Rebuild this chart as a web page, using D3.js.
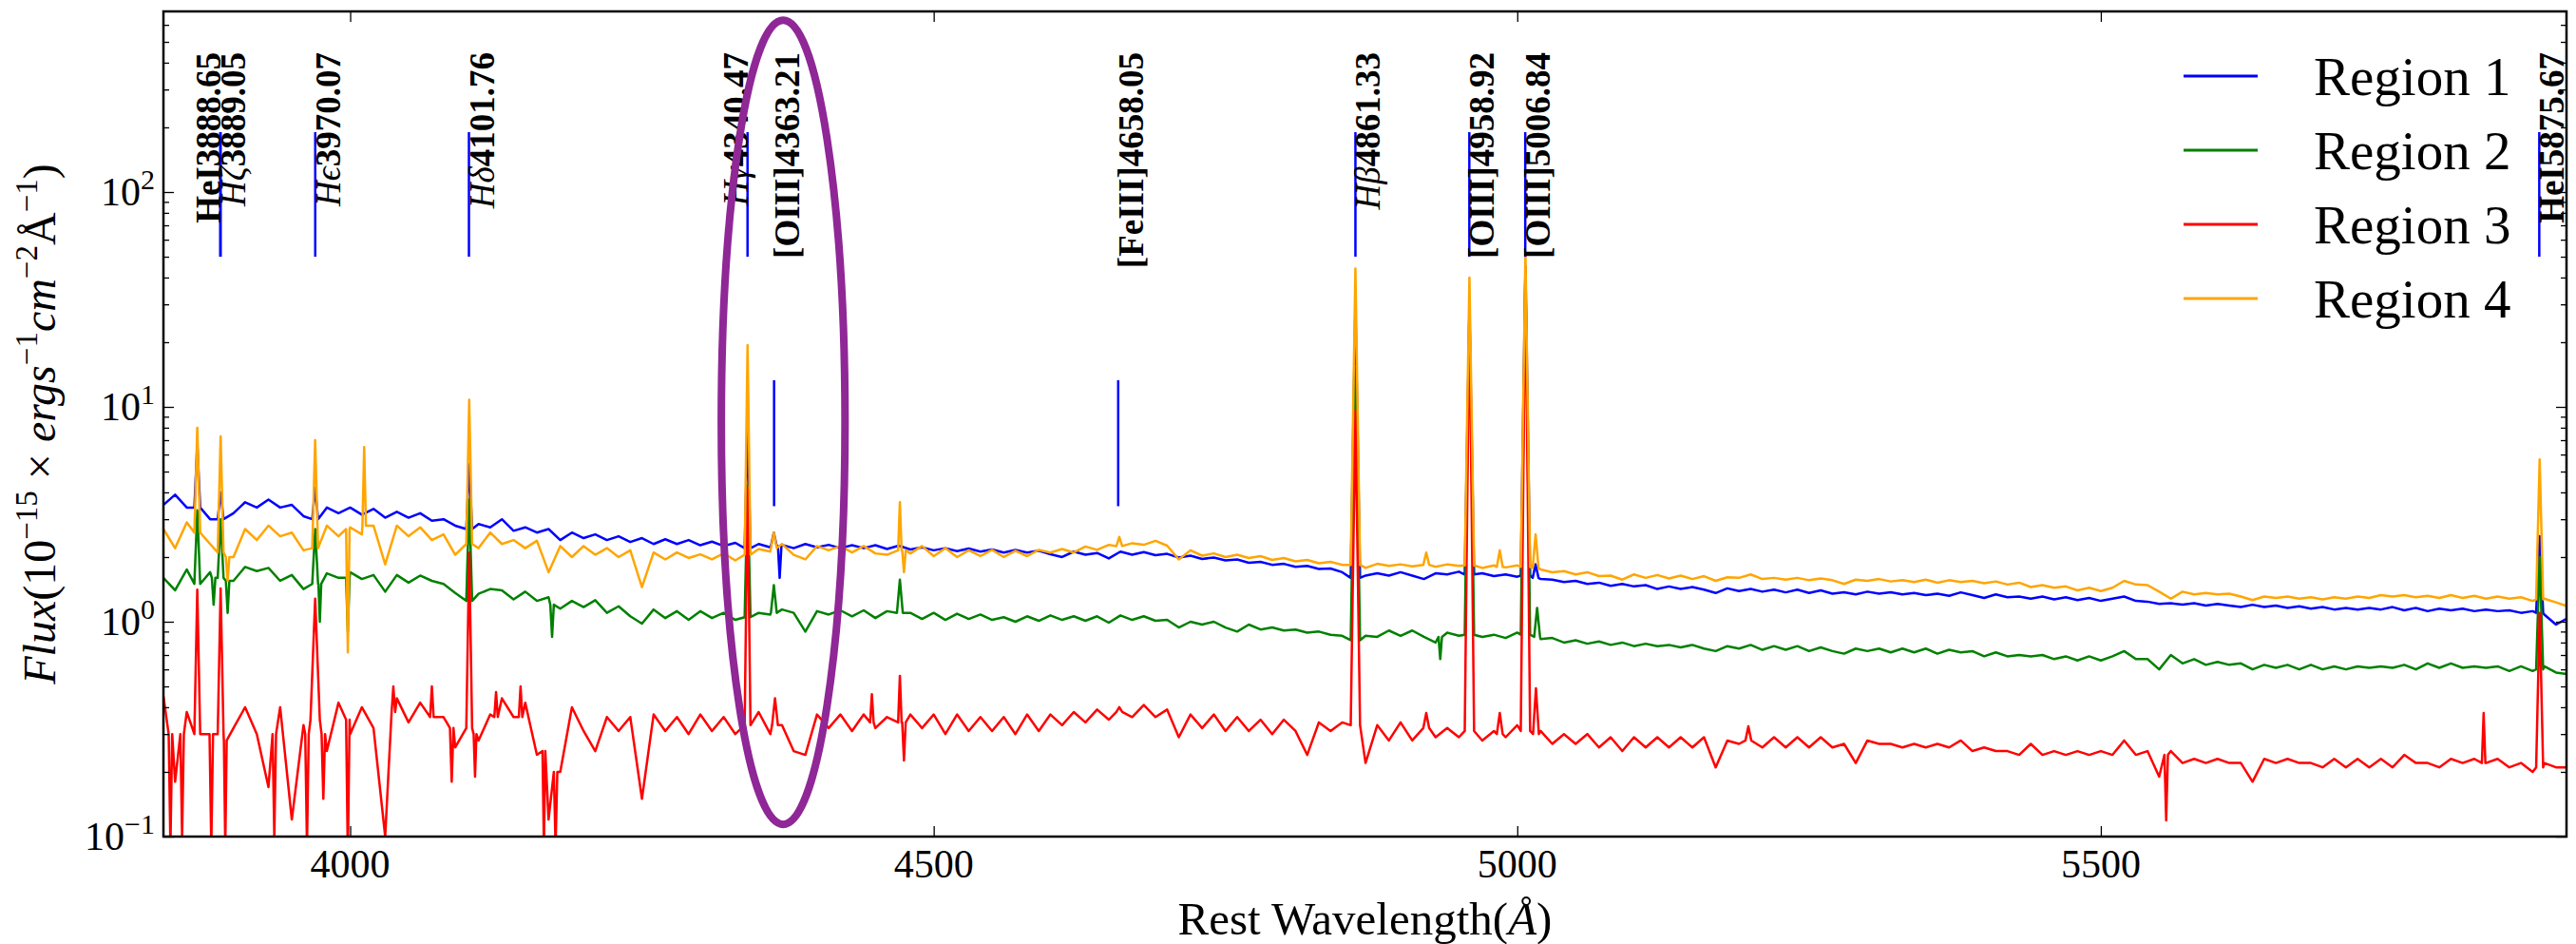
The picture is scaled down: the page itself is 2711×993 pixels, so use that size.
<!DOCTYPE html>
<html>
<head>
<meta charset="utf-8">
<script src="https://d3js.org/d3.v7.min.js"></script>
<style>
    body { margin: 0; background: #fff; }
    text { font-family: "Liberation Serif", "DejaVu Serif", serif; fill: #000; }
    .domain { stroke: none; }
    g.tick line { stroke: #000; stroke-width: 1.3; }
</style>
</head>
<body>
<div id="chartHere"></div>
<script>

    // sampling grid of the spectra, in Angstrom (10 A steps)
    var wave = d3.range(3840, 5901, 10);

    // continuum values, one per grid point (1e-15 erg/s/cm2/A)
    var region1 = [
        3.5, 3.9, 3.4, 3.6, 3.0, 3.1, 3.2, 3.6, 3.4, 3.7,
        3.4, 3.5, 3.1, 3.0, 3.4, 3.2, 3.4, 3.15, 3.35, 3.05,
        3.25, 3.05, 3.2, 2.95, 3.0, 2.8, 2.6, 2.85, 2.75, 3.0,
        2.65, 2.75, 2.6, 2.7, 2.4, 2.6, 2.45, 2.55, 2.4, 2.5,
        2.35, 2.45, 2.3, 2.42, 2.3, 2.4, 2.27, 2.36, 2.25, 2.33,
        2.2, 2.3, 2.22, 2.28, 2.2, 2.3, 2.22, 2.28, 2.2, 2.27,
        2.2, 2.27, 2.18, 2.26, 2.17, 2.22, 2.15, 2.2, 2.13, 2.19,
        2.12, 2.17, 2.1, 2.16, 2.1, 2.14, 2.06, 2.0, 2.12, 2.05,
        2.09, 1.97, 2.12, 2.05, 2.11, 2.04, 2.07, 1.99, 2.03, 1.96,
        1.99, 1.93, 1.95, 1.88, 1.9, 1.84, 1.86, 1.8, 1.82, 1.76,
        1.77, 1.7, 1.58, 1.64, 1.68, 1.64, 1.7, 1.64, 1.58, 1.68,
        1.66, 1.71, 1.64, 1.68, 1.63, 1.66, 1.62, 1.64, 1.58, 1.57,
        1.53, 1.55, 1.5, 1.52, 1.47, 1.5, 1.46, 1.48, 1.42, 1.46,
        1.42, 1.45, 1.41, 1.36, 1.43, 1.39, 1.42, 1.38, 1.41, 1.37,
        1.41, 1.36, 1.4, 1.35, 1.37, 1.34, 1.38, 1.35, 1.37, 1.34,
        1.36, 1.33, 1.35, 1.32, 1.37, 1.33, 1.29, 1.34, 1.3, 1.31,
        1.28, 1.31, 1.27, 1.3, 1.26, 1.29, 1.25, 1.28, 1.31, 1.25,
        1.24, 1.21, 1.22, 1.2, 1.22, 1.19, 1.21, 1.19, 1.17, 1.2,
        1.17, 1.19, 1.16, 1.18, 1.15, 1.17, 1.14, 1.16, 1.14, 1.16,
        1.14, 1.17, 1.13, 1.16, 1.12, 1.15, 1.13, 1.15, 1.12, 1.14,
        1.12, 1.13, 1.1, 1.12, 1.08, 0.97, 1.04
    ];

    var region2 = [
        1.6, 1.4, 1.75, 1.45, 1.7, 1.5, 1.55, 1.8, 1.72, 1.78,
        1.55, 1.65, 1.42, 1.55, 1.68, 1.6, 1.7, 1.58, 1.65, 1.38,
        1.65, 1.52, 1.64, 1.55, 1.5, 1.36, 1.22, 1.35, 1.42, 1.4,
        1.27, 1.38, 1.25, 1.3, 1.15, 1.25, 1.17, 1.26, 1.1, 1.18,
        1.06, 0.98, 1.14, 1.04, 1.12, 1.02, 1.12, 1.04, 1.1, 1.02,
        1.0, 1.1, 1.08, 1.14, 1.1, 0.9, 1.12, 1.08, 1.13, 1.06,
        1.13, 1.04, 1.12, 1.08, 1.1, 1.03, 1.1, 1.02, 1.09, 1.03,
        1.08, 1.02, 1.05, 1.0, 1.06, 1.01, 1.07, 1.02, 1.06, 1.01,
        1.06, 0.99, 1.07, 1.02, 1.06, 1.01, 1.02, 0.94, 1.0, 0.97,
        1.0, 0.94, 0.9, 0.97, 0.92, 0.94, 0.91, 0.92, 0.89, 0.9,
        0.87, 0.86, 0.8, 0.86, 0.85, 0.91, 0.86, 0.91, 0.85, 0.8,
        0.89, 0.86, 0.89, 0.85, 0.87, 0.84, 0.89, 0.86, 0.83, 0.84,
        0.8, 0.82, 0.79, 0.81, 0.78, 0.8, 0.77, 0.79, 0.77, 0.78,
        0.76, 0.78, 0.75, 0.73, 0.77, 0.75, 0.78, 0.74, 0.77, 0.74,
        0.77, 0.73, 0.76, 0.73, 0.71, 0.75, 0.73, 0.75, 0.72, 0.75,
        0.72, 0.75, 0.71, 0.74, 0.72, 0.73, 0.69, 0.72, 0.69, 0.7,
        0.69, 0.7, 0.67, 0.69, 0.66, 0.69, 0.66, 0.69, 0.73, 0.67,
        0.67, 0.6, 0.7, 0.64, 0.67, 0.63, 0.65, 0.63, 0.64, 0.6,
        0.63, 0.61, 0.63, 0.6, 0.63, 0.6, 0.62, 0.6, 0.62, 0.61,
        0.62, 0.61, 0.63, 0.6, 0.64, 0.61, 0.64, 0.61, 0.62, 0.61,
        0.62, 0.59, 0.62, 0.59, 0.62, 0.58, 0.57
    ];

    var region3 = [
        0.45, 0.18, 0.38, 0.25, 0.36, 0.2, 0.32, 0.4, 0.3, 0.17,
        0.4, 0.12, 0.33, 0.5, 0.25, 0.42, 0.3, 0.4, 0.32, 0.1,
        0.44, 0.34, 0.42, 0.32, 0.36, 0.26, 0.34, 0.28, 0.37, 0.44,
        0.36, 0.42, 0.24, 0.12, 0.2, 0.4, 0.31, 0.25, 0.36, 0.31,
        0.36, 0.15, 0.37, 0.31, 0.36, 0.3, 0.37, 0.31, 0.36, 0.3,
        0.34, 0.38, 0.3, 0.33, 0.25, 0.24, 0.37, 0.32, 0.37, 0.31,
        0.37, 0.32, 0.36, 0.31, 0.37, 0.32, 0.37, 0.3, 0.37, 0.31,
        0.36, 0.31, 0.36, 0.3, 0.37, 0.31, 0.37, 0.33, 0.38, 0.34,
        0.39, 0.35, 0.41, 0.36, 0.41, 0.36, 0.39, 0.29, 0.37, 0.32,
        0.37, 0.31, 0.36, 0.31, 0.35, 0.3, 0.35, 0.31, 0.24, 0.34,
        0.31, 0.34, 0.35, 0.22, 0.33, 0.28, 0.34, 0.28, 0.34, 0.29,
        0.32, 0.29, 0.33, 0.28, 0.31, 0.29, 0.33, 0.31, 0.31, 0.27,
        0.3, 0.27, 0.3, 0.26, 0.29, 0.25, 0.29, 0.26, 0.29, 0.26,
        0.29, 0.26, 0.29, 0.21, 0.28, 0.27, 0.3, 0.26, 0.29, 0.26,
        0.29, 0.26, 0.29, 0.26, 0.27, 0.22, 0.28, 0.27, 0.27, 0.26,
        0.27, 0.26, 0.27, 0.26, 0.28, 0.25, 0.26, 0.25, 0.25, 0.24,
        0.27, 0.24, 0.25, 0.24, 0.25, 0.24, 0.25, 0.24, 0.28, 0.24,
        0.25, 0.19, 0.25, 0.22, 0.23, 0.22, 0.23, 0.22, 0.22, 0.18,
        0.23, 0.22, 0.23, 0.22, 0.22, 0.21, 0.23, 0.21, 0.23, 0.21,
        0.23, 0.21, 0.24, 0.22, 0.22, 0.21, 0.23, 0.22, 0.23, 0.22,
        0.23, 0.21, 0.22, 0.2, 0.22, 0.21, 0.21
    ];

    var region4 = [
        2.7, 2.2, 2.9, 2.3, 2.3, 1.9, 2.0, 2.7, 2.4, 2.8,
        2.5, 2.6, 2.15, 2.2, 2.8, 2.5, 2.75, 2.55, 2.8, 1.85,
        2.8, 2.5, 2.75, 2.4, 2.55, 2.05, 2.35, 2.2, 2.6, 2.3,
        2.4, 2.2, 2.38, 1.7, 2.25, 2.0, 2.25, 2.05, 2.2, 2.0,
        2.15, 1.45, 2.1, 1.95, 2.1, 1.98, 2.06, 1.95, 2.08, 1.93,
        2.05, 2.18, 2.12, 2.3, 2.05, 1.95, 2.25, 2.15, 2.25, 2.1,
        2.25, 2.08, 2.05, 2.22, 2.08, 2.25, 2.02, 2.2, 2.0, 2.15,
        2.02, 2.16, 2.0, 2.14, 2.02, 2.16, 2.1, 2.18, 2.1, 2.24,
        2.16, 2.28, 2.24, 2.32, 2.28, 2.38, 2.26, 1.95, 2.15, 2.03,
        2.08, 2.0, 2.05, 1.98, 2.02, 1.94, 1.98, 1.91, 1.94, 1.87,
        1.9, 1.84, 1.86, 1.78, 1.86, 1.82, 1.85, 1.81, 1.86, 1.8,
        1.85, 1.82, 1.84, 1.78, 1.83, 1.79, 1.83, 1.78, 1.75, 1.7,
        1.72, 1.66, 1.7, 1.63, 1.64, 1.57, 1.66, 1.6, 1.65, 1.59,
        1.64, 1.58, 1.63, 1.55, 1.61, 1.6, 1.66, 1.58, 1.6, 1.57,
        1.6, 1.56, 1.59, 1.56, 1.5, 1.57, 1.55, 1.58, 1.54, 1.56,
        1.53, 1.57, 1.52, 1.56, 1.53, 1.55, 1.51, 1.54, 1.49, 1.52,
        1.45, 1.48, 1.44, 1.46, 1.4, 1.44, 1.39, 1.44, 1.55, 1.49,
        1.48, 1.38, 1.28, 1.38, 1.34, 1.36, 1.34, 1.35, 1.31, 1.26,
        1.31, 1.29, 1.31, 1.28, 1.3, 1.27, 1.3, 1.28, 1.31, 1.29,
        1.33, 1.31, 1.33, 1.3, 1.32, 1.29, 1.33, 1.29, 1.32, 1.28,
        1.31, 1.28, 1.3, 1.25, 1.28, 1.23, 1.18
    ];

    // narrow emission spikes / dips: [wavelength, peak, local continuum, half width in A]
    var region1Spikes = [
        [3869, 6.7, 3.4], [3889, 4.0, 3.0], [3970, 4.2, 3.0], [4102, 5.4, 2.7],
        [4340.5, 8.0, 2.2], [4363, 2.6, 2.25], [4368, 1.6, 2.25, 1.5],
        [4861.3, 30, 1.6, 4], [4959, 28, 1.66, 4], [5007, 45, 1.64, 4],
        [5015.7, 1.85, 1.6], [5876, 2.5, 1.1, 3]
    ];
    var region2Spikes = [
        [3869, 3.3, 1.5], [3883, 1.2, 1.6, 1.5], [3889, 3.0, 1.6], [3895, 1.1, 1.55, 1.5],
        [3970, 2.7, 1.5], [3974, 1.0, 1.5, 1.2], [3998, 0.9, 1.6, 1.5], [4102, 3.7, 1.25],
        [4173, 0.85, 1.2, 1.5], [4340.5, 4.3, 1.05], [4363, 1.48, 1.1], [4471, 1.57, 1.1],
        [4861.3, 15.5, 0.82, 4], [4934, 0.67, 0.85, 1.5], [4959, 30, 0.87, 4],
        [5007, 42, 0.87, 4], [5017, 1.16, 0.85], [5876, 2.0, 0.6, 3]
    ];
    var region3Spikes = [
        [3846, 0.09, 0.3, 1.5], [3856, 0.1, 0.3, 1.5], [3869, 1.41, 0.3], [3881, 0.09, 0.3, 1.5],
        [3889, 1.43, 0.3], [3893, 0.09, 0.28, 1.2], [3935, 0.1, 0.3, 1.5], [3963, 0.09, 0.3, 1.5],
        [3970, 1.28, 0.35, 4], [3977, 0.15, 0.3, 1.5], [3998, 0.08, 0.35, 1.5], [4037, 0.5, 0.38, 1.5],
        [4070, 0.5, 0.36, 1.5], [4087, 0.18, 0.32, 1.5], [4102, 2.1, 0.32], [4107, 0.19, 0.3, 1.2],
        [4125, 0.47, 0.36, 1.5], [4146, 0.5, 0.36, 1.5], [4166, 0.09, 0.25, 1.2], [4176, 0.09, 0.2, 1.5],
        [4340.5, 4.2, 0.33], [4364, 0.44, 0.33], [4447, 0.46, 0.34, 1.5], [4471, 0.56, 0.34, 1.5],
        [4474.5, 0.226, 0.34, 1.5], [4659, 0.40, 0.38], [4861.3, 9.6, 0.33, 4], [4922, 0.376, 0.32],
        [4959, 30, 0.31, 4], [4985, 0.376, 0.3], [5007, 45, 0.31, 4], [5016, 0.49, 0.3],
        [5198, 0.326, 0.28], [5556, 0.119, 0.24, 1.5], [5828, 0.376, 0.22, 1.5], [5876, 1.1, 0.21, 3]
    ];
    var region4Spikes = [
        [3869, 8.0, 2.6], [3889, 7.3, 2.1], [3895, 1.55, 2.0, 1.5], [3970, 7.0, 2.2],
        [3998, 0.72, 2.7, 1.5], [4012, 6.5, 2.8, 1.5], [4102, 10.8, 2.3], [4340.5, 19.4, 2.05],
        [4363, 2.6, 2.2], [4471, 3.6, 2.15, 1.5], [4474.5, 1.7, 2.15, 1.5], [4659, 2.48, 2.25],
        [4861.3, 44, 1.84, 4], [4922, 2.1, 1.84], [4959, 40, 1.83, 4], [4985, 2.15, 1.8],
        [5007, 52, 1.8, 4], [5015.7, 2.55, 1.78], [5876, 5.7, 1.27, 3]
    ];

    var seriesNames  = [ 'Region 1', 'Region 2', 'Region 3', 'Region 4' ];
    var seriesColors = [ '#0000ff', '#008000', '#ff0000', '#ffa500' ];

    // identified lines
    var lineNames = [ 'HeI', 'H\u03b6', 'H\u03f5', 'H\u03b4', 'H\u03b3', '[OIII]', '[FeIII]', 'H\u03b2', '[OIII]', '[OIII]', 'HeI' ];
    var lineWaves = [ 3888.65, 3889.05, 3970.07, 4101.76, 4340.47, 4363.21, 4658.05, 4861.33, 4958.92, 5006.84, 5875.67 ];
    var markLow   = [ 50, 50, 50, 50, 50, 3.45, 3.45, 50, 50, 50, 50 ];
    var markHigh  = [ 190, 190, 190, 190, 190, 13.3, 13.3, 190, 190, 190, 190 ];

    var xTicks = [ 4000, 4500, 5000, 5500 ];
    var yTicks = [ 0.1, 1, 10, 100 ];

    // hand drawn ring around [OIII]4363
    var ringWave = [ 4318, 4424 ];
    var ringFlux = [ 0.114, 630 ];

    function buildSeries(vals, spikes)
    {
        var pts = [];
        wave.forEach(function (w, i) {
            var inside = spikes.some(function (s) { return Math.abs(w - s[0]) <= (s[3] || 2.5); });
            if (!inside) pts.push([w, vals[i]]);
        });
        spikes.forEach(function (s) {
            var hw = s[3] || 2.5;
            pts.push([s[0] - hw, s[2]], [s[0], s[1]], [s[0] + hw, s[2]]);
        });
        return pts.sort(function (a, b) { return a[0] - b[0]; });
    }

    function render()
    {
        var dims = { height: 993, width: 2711 };
        var margin = { top: 12, right: 10, bottom: 113, left: 172 };
        var x0 = margin.left, x1 = dims.width - margin.right;
        var y0 = dims.height - margin.bottom, y1 = margin.top;

        var svg = d3.select('div#chartHere')
            .append('svg')
            .attr('width', dims.width)
            .attr('height', dims.height);

        var xScale = d3.scaleLinear()
            .domain([ 3840, 5899 ])
            .range([ x0, x1 ]);

        var yScale = d3.scaleLog()
            .domain([ 0.1, 693 ])
            .range([ y0, y1 ]);

        svg.append('clipPath').attr('id', 'plotClip')
            .append('rect')
            .attr('x', x0).attr('y', y1)
            .attr('width', x1 - x0).attr('height', y0 - y1);

        var plot = svg.append('g').attr('clip-path', 'url(#plotClip)');

        // spectra
        var allVals = [ region1, region2, region3, region4 ];
        var allSpikes = [ region1Spikes, region2Spikes, region3Spikes, region4Spikes ];
        var line = d3.line()
            .x(function (d) { return xScale(d[0]); })
            .y(function (d) { return yScale(Math.max(d[1], 0.01)); });

        for (var j = 0; j < allVals.length; j++)
        {
            plot.append('path')
                .datum(buildSeries(allVals[j], allSpikes[j]))
                .attr('d', line)
                .attr('fill', 'none')
                .attr('stroke', seriesColors[j])
                .attr('stroke-width', 2.5)
                .attr('stroke-linejoin', 'round');
        }

        // line markers
        plot.selectAll('line.mark')
            .data(lineWaves)
            .enter().append('line')
            .attr('class', 'mark')
            .attr('x1', function (d) { return xScale(d); })
            .attr('x2', function (d) { return xScale(d); })
            .attr('y1', function (d, i) { return yScale(markLow[i]); })
            .attr('y2', function (d, i) { return yScale(markHigh[i]); })
            .attr('stroke', '#0000ff')
            .attr('stroke-width', 2.5);

        // line labels (HeI3888.65 and Hgamma sit left of their marker)
        var leftSide = [ 0, 4 ];
        lineWaves.forEach(function (w, i) {
            var bx = xScale(w) + (leftSide.indexOf(i) >= 0 ? 0 : 26);
            var t = svg.append('text')
                .attr('transform', 'translate(' + bx + ',55) rotate(-90)')
                .attr('text-anchor', 'end')
                .attr('font-size', 37);
            var greek = lineNames[i].charAt(0) === 'H' && lineNames[i] !== 'HeI';
            t.append('tspan')
                .text(lineNames[i])
                .attr('font-style', greek ? 'italic' : 'normal')
                .attr('font-weight', greek ? 'normal' : 'bold');
            t.append('tspan')
                .text(w.toFixed(2))
                .attr('font-weight', 'bold');
        });

        // highlight ring
        var rx0 = xScale(ringWave[0]), rx1 = xScale(ringWave[1]);
        var ry0 = yScale(ringFlux[0]), ry1 = yScale(ringFlux[1]);
        svg.append('ellipse')
            .attr('cx', (rx0 + rx1) / 2)
            .attr('cy', (ry0 + ry1) / 2)
            .attr('rx', (rx1 - rx0) / 2)
            .attr('ry', (ry0 - ry1) / 2)
            .attr('fill', 'none')
            .attr('stroke', '#8f2796')
            .attr('stroke-width', 8);

        // ticks, all pointing inwards
        var minorY = [];
        for (var e = -1; e < 3; e++)
            for (var m = 2; m < 10; m++)
                if (m * Math.pow(10, e) < 693) minorY.push(m * Math.pow(10, e));

        function tickGroup(axis, tx, ty) {
            svg.append('g')
                .attr('transform', 'translate(' + tx + ',' + ty + ')')
                .call(axis.tickFormat(''));
        }
        tickGroup(d3.axisLeft(yScale).tickValues(yTicks).tickSize(-11), x0, 0);
        tickGroup(d3.axisLeft(yScale).tickValues(minorY).tickSize(-6), x0, 0);
        tickGroup(d3.axisRight(yScale).tickValues(yTicks).tickSize(-11), x1, 0);
        tickGroup(d3.axisRight(yScale).tickValues(minorY).tickSize(-6), x1, 0);
        tickGroup(d3.axisBottom(xScale).tickValues(xTicks).tickSize(-11), 0, y0);
        tickGroup(d3.axisTop(xScale).tickValues(xTicks).tickSize(-11), 0, y1);

        // frame
        svg.append('rect')
            .attr('x', x0).attr('y', y1)
            .attr('width', x1 - x0).attr('height', y0 - y1)
            .attr('fill', 'none')
            .attr('stroke', '#000')
            .attr('stroke-width', 2.5);

        // tick labels
        svg.selectAll('text.xlab')
            .data(xTicks)
            .enter().append('text')
            .attr('class', 'xlab')
            .text(function (d) { return d; })
            .attr('x', function (d) { return xScale(d); })
            .attr('y', y0 + 43)
            .attr('text-anchor', 'middle')
            .attr('font-size', 42);

        var ylab = svg.selectAll('text.ylab')
            .data(yTicks)
            .enter().append('text')
            .attr('class', 'ylab')
            .attr('x', x0 - 9)
            .attr('y', function (d) { return yScale(d) + 14; })
            .attr('text-anchor', 'end')
            .attr('font-size', 42);
        ylab.append('tspan').text('10');
        ylab.append('tspan')
            .text(function (d) { var p = Math.round(Math.log10(d)); return p < 0 ? '\u2212' + (-p) : p; })
            .attr('font-size', 30)
            .attr('dy', -17);

        // axis titles
        var xt = svg.append('text')
            .attr('x', (x0 + x1) / 2)
            .attr('y', 983)
            .attr('text-anchor', 'middle')
            .attr('font-size', 49);
        xt.append('tspan').text('Rest Wavelength(');
        xt.append('tspan').text('\u00c5').attr('font-style', 'italic');
        xt.append('tspan').text(')');

        var yt = svg.append('text')
            .attr('transform', 'translate(58,' + ((y0 + y1) / 2) + ') rotate(-90)')
            .attr('text-anchor', 'middle')
            .attr('font-size', 48);
        var parts = [
            [ 'Flux', 'i', 0 ], [ '(10', 'n', 0 ], [ '\u221215', 'n', 1 ], [ ' \u00d7 ', 'n', -1 ],
            [ 'ergs', 'i', 0 ], [ '\u22121', 'n', 1 ], [ 'cm', 'i', -1 ], [ '\u22122', 'n', 1 ],
            [ '\u00c5', 'n', -1 ], [ '\u22121', 'n', 1 ], [ ')', 'n', -1 ]
        ];
        parts.forEach(function (p) {
            var ts = yt.append('tspan').text(p[0])
                .attr('font-style', p[1] === 'i' ? 'italic' : 'normal');
            if (p[2] === 1) ts.attr('font-size', 33).attr('dy', -19);
            if (p[2] === -1) ts.attr('dy', 19);
        });

        // legend
        var leg = svg.selectAll('g.legend')
            .data(seriesNames)
            .enter().append('g')
            .attr('class', 'legend')
            .attr('transform', function (d, i) { return 'translate(2298,' + (80 + i * 78) + ')'; });
        leg.append('line')
            .attr('x1', 0).attr('x2', 78)
            .attr('stroke', function (d, i) { return seriesColors[i]; })
            .attr('stroke-width', 3);
        leg.append('text')
            .text(function (d) { return d; })
            .attr('x', 137)
            .attr('y', 20)
            .attr('font-size', 57);
    }

    render();
</script>
</body>
</html>
